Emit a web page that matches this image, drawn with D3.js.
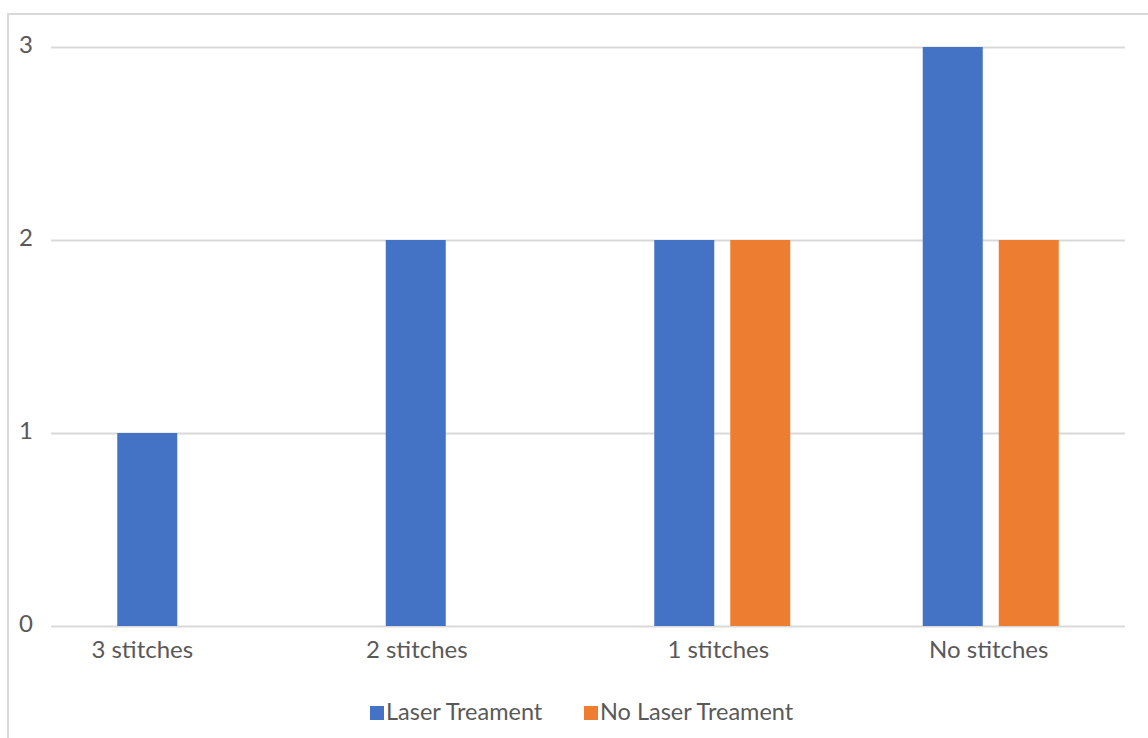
<!DOCTYPE html>
<html>
<head>
<meta charset="utf-8">
<script src="https://cdn.jsdelivr.net/npm/d3@7"></script>
<style>
  html, body { margin: 0; padding: 0; background: #fff; }
  svg { display: block; }
  text { font-family: Lato, "Open Sans", sans-serif; fill: #595959; }
</style>
</head>
<body>
<svg id="chart" width="1148" height="738"></svg>
<script>
// Chart data
const categories = ["3 stitches", "2 stitches", "1 stitches", "No stitches"];
const seriesNames = ["Laser Treament", "No Laser Treament"];
const laserValues = [1, 2, 2, 3];
const noLaserValues = [0, 0, 2, 2];
const yTicks = [0, 1, 2, 3];
const seriesColors = ["#4472C4", "#ED7D31"];

const svg = d3.select("#chart");

// Outer chart frame
svg.append("rect")
  .attr("x", 8).attr("y", 14)
  .attr("width", 1300).attr("height", 900)
  .attr("fill", "none")
  .attr("stroke", "#d9d9d9")
  .attr("stroke-width", 2);

const plot = { left: 51, right: 1125, top: 47, bottom: 626 };

const x0 = d3.scaleBand()
  .domain(categories)
  .range([plot.left, plot.right])
  .paddingInner(0.4935)
  .paddingOuter(0.4935 / 2);

const x1 = d3.scaleBand()
  .domain(seriesNames)
  .range([0, x0.bandwidth()])
  .paddingInner(0.2105);

const y = d3.scaleLinear()
  .domain([0, 3])
  .range([plot.bottom, plot.top]);

// Horizontal gridlines
svg.append("g")
  .selectAll("line")
  .data(yTicks)
  .join("line")
  .attr("x1", plot.left)
  .attr("x2", plot.right)
  .attr("y1", d => Math.round(y(d)) + 0.5)
  .attr("y2", d => Math.round(y(d)) + 0.5)
  .attr("stroke", "#d9d9d9")
  .attr("stroke-width", 2);

// Y axis labels
const yAxis = d3.axisLeft(y).tickValues(yTicks).tickFormat(d3.format("d")).tickSize(0).tickPadding(0);
const gy = svg.append("g").attr("transform", `translate(33,0)`).call(yAxis);
gy.select(".domain").remove();
gy.selectAll("text")
  .attr("font-size", 24)
  .attr("dy", "0.22em")
  .style("font-family", "Lato, 'Open Sans', sans-serif")
  .attr("fill", "#595959");

// Bars
const rows = categories.map((c, i) => ({
  category: c,
  values: [
    { series: seriesNames[0], value: laserValues[i], color: seriesColors[0] },
    { series: seriesNames[1], value: noLaserValues[i], color: seriesColors[1] }
  ]
}));

const groups = svg.append("g")
  .selectAll("g")
  .data(rows)
  .join("g")
  .attr("transform", d => `translate(${x0(d.category)},0)`);

groups.selectAll("rect")
  .data(d => d.values.filter(v => v.value > 0))
  .join("rect")
  .attr("x", d => x1(d.series))
  .attr("width", x1.bandwidth())
  .attr("y", d => y(d.value))
  .attr("height", d => y(0) - y(d.value))
  .attr("fill", d => d.color);

// Category labels (shifted toward the leading bar for single-series groups)
const xAxis = d3.axisBottom(x0).tickSize(0).tickPadding(0);
const gx = svg.append("g").attr("transform", `translate(0,${plot.bottom})`).call(xAxis);
gx.select(".domain").remove();
const labelShift = [-43, -37, -4, -2];
gx.selectAll("text")
  .attr("font-size", 24)
  .attr("y", 32)
  .attr("dy", 0)
  .attr("dx", (d, i) => labelShift[i])
  .style("font-family", "Lato, 'Open Sans', sans-serif")
  .attr("fill", "#595959");

// Legend
const legendItems = [
  { name: seriesNames[0], color: seriesColors[0], x: 370 },
  { name: seriesNames[1], color: seriesColors[1], x: 584 }
];
const legend = svg.append("g");
const li = legend.selectAll("g").data(legendItems).join("g")
  .attr("transform", d => `translate(${d.x},706)`);
li.append("rect").attr("width", 14).attr("height", 14).attr("fill", d => d.color);
li.append("text").attr("x", 16).attr("y", 13.5).attr("font-size", 23.5).text(d => d.name);
</script>
</body>
</html>
